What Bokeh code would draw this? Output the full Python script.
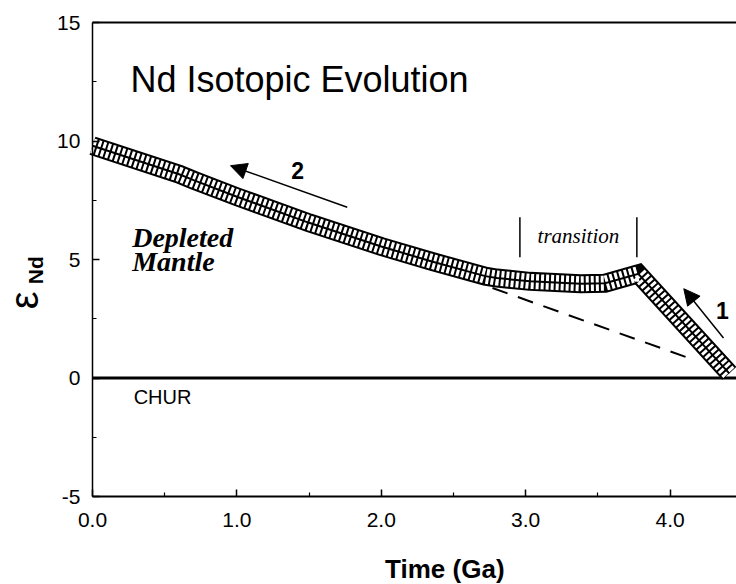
import math
from bokeh.plotting import figure
from bokeh.models import (Range1d, Label, Arrow, NormalHead, FixedTicker,
                          ColumnDataSource)
from bokeh.embed import file_html
from bokeh.resources import INLINE

# ---- data ----
band_x = [0.0, 0.6, 0.7, 1.0, 1.5, 2.0, 2.35, 2.72, 2.8, 3.03, 3.38, 3.55, 3.78, 4.41]
band_y = [9.8, 8.6, 8.35, 7.65, 6.55, 5.55, 4.92, 4.3, 4.22, 4.08, 3.98, 4.0, 4.4, 0.2]

dm_ext_x = [2.77, 4.16]
dm_ext_y = [3.80, 0.78]

chur_x = [0.0, 4.5]
chur_y = [0.0, 0.0]
frame_top_x = [0.0, 4.5]
frame_top_y = [15.0, 15.0]

transition_x = [2.96, 3.77]
transition_y0 = [5.1, 5.1]
transition_y1 = [6.79, 6.79]

arrow2 = dict(x_start=1.764, y_start=7.21, x_end=0.956, y_end=8.96)
arrow1 = dict(x_start=4.37, y_start=1.69, x_end=4.095, y_end=3.77)

x_ticks = [0, 1, 2, 3, 4]
x_tick_labels = ["0.0", "1.0", "2.0", "3.0", "4.0"]
x_minor = [0.5, 1.5, 2.5, 3.5]
y_ticks = [-5, 0, 5, 10, 15]
y_tick_labels = ["-5", "0", "5", "10", "15"]
y_minor = [-2.5, 2.5, 7.5, 12.5]

# frame covers the whole canvas; axes are pinned at x=0 and y=-5
p = figure(width=736, height=584, output_backend="svg", toolbar_location=None,
           x_range=Range1d(-0.637, 4.46), y_range=Range1d(-8.71, 15.93),
           min_border=0)
p.outline_line_color = None
p.xgrid.visible = False
p.ygrid.visible = False
p.background_fill_color = "white"
p.border_fill_color = "white"

for ax, tks, lbls, mn, lw in ((p.xaxis[0], x_ticks, x_tick_labels, x_minor, 2),
                              (p.yaxis[0], y_ticks, y_tick_labels, y_minor, 1.5)):
    ax.ticker = FixedTicker(ticks=tks, minor_ticks=mn)
    ax.major_label_overrides = {t: l for t, l in zip(tks, lbls)}
    ax.axis_line_width = lw
    ax.axis_line_color = "black"
    ax.major_tick_in = 7
    ax.major_tick_out = 0
    ax.minor_tick_in = 4
    ax.minor_tick_out = 0
    ax.major_tick_line_width = 1.5
    ax.minor_tick_line_width = 1.2
    ax.major_tick_line_color = "black"
    ax.minor_tick_line_color = "black"
    ax.major_label_text_font = "Liberation Sans"
    ax.major_label_text_font_size = "21px"
    ax.major_label_text_color = "black"
p.xaxis[0].fixed_location = y_ticks[0]
p.xaxis[0].bounds = (chur_x[0], chur_x[1])
p.xaxis[0].major_label_standoff = 16
p.yaxis[0].fixed_location = x_ticks[0]
p.yaxis[0].bounds = (y_ticks[0], y_ticks[-1])
p.yaxis[0].major_label_standoff = 12

# CHUR reference line and top border
p.line(chur_x, chur_y, line_color="black", line_width=3)
p.line(frame_top_x, frame_top_y, line_color="black", line_width=2)

# depleted mantle extension (dashed)
p.line(dm_ext_x, dm_ext_y, line_color="black", line_width=2, line_dash="16 11")

# hatched band
src = ColumnDataSource(dict(x=band_x, y=band_y))
p.line("x", "y", source=src, line_color="black", line_width=19, line_join="miter")
p.line("x", "y", source=src, line_color="white", line_width=15, line_dash="3 2",
       line_join="miter")
p.line("x", "y", source=src, line_color="black", line_width=2, line_join="miter")

# transition markers
p.segment(x0=transition_x, y0=transition_y0, x1=transition_x, y1=transition_y1,
          line_color="black", line_width=1.5)

# arrows
for a in (arrow1, arrow2):
    p.add_layout(Arrow(end=NormalHead(size=16, fill_color="black", line_color="black"),
                       line_color="black", line_width=1.5, **a))

def lab(x, y, text, size, font="Liberation Sans", style="normal", align="left",
        baseline="middle", angle=0.0):
    p.add_layout(Label(x=x, y=y, text=text, text_font=font, text_font_size=size,
                       text_font_style=style, text_align=align,
                       text_baseline=baseline, angle=angle, text_color="black"))

lab(0.263, 12.61, "Nd Isotopic Evolution", "36px", baseline="alphabetic")
lab(0.275, 5.95, "Depleted", "28px", font="Liberation Serif", style="bold italic")
lab(0.275, 4.93, "Mantle", "28px", font="Liberation Serif", style="bold italic")
lab(3.365, 6.0, "transition", "21px", font="Liberation Serif", style="italic", align="center")
lab(0.285, -0.78, "CHUR", "20px")
lab(1.42, 8.75, "2", "23px", style="bold", align="center")
lab(4.363, 2.86, "1", "23px", style="bold", align="center")
lab(2.44, -8.05, "Time (Ga)", "26px", style="bold", align="center")
lab(-0.475, 3.28, "\u03b5", "40px", align="center", angle=math.pi / 2)
lab(-0.395, 4.55, "Nd", "21px", style="bold", align="center", angle=math.pi / 2)

open("out.html", "w").write(file_html(p, INLINE))
